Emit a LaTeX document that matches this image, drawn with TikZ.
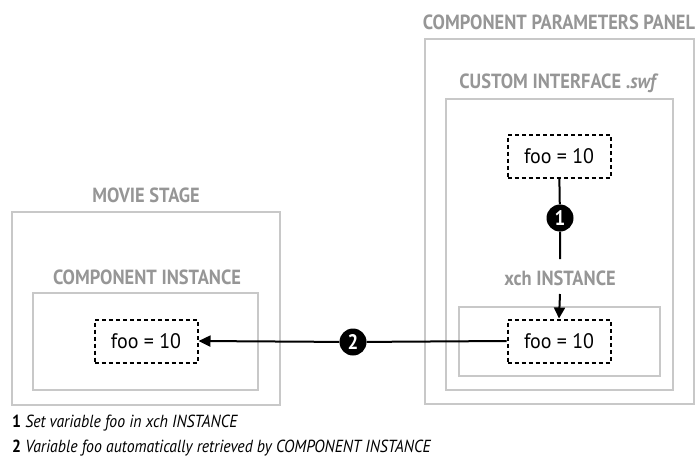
\documentclass[tikz,border=0pt]{standalone}
\usepackage{fontspec}
\setmainfont{PT Sans}
\newfontfamily\condfont[FakeStretch=0.9]{PT Sans}
\newfontfamily\varfont[FakeStretch=0.95]{PT Sans}
\usetikzlibrary{arrows.meta}
\definecolor{boxgray}{RGB}{200,200,200}
\definecolor{titlegray}{RGB}{150,150,150}
\tikzset{
  panel/.style={draw=boxgray, line width=1.5pt},
  paneltitle/.style={text=titlegray, inner sep=0pt, font=\condfont\bfseries\fontsize{20.5}{20.5}\selectfont},
  varbox/.style={draw, dash pattern=on 4pt off 3pt, line width=2pt, minimum width=103pt, minimum height=43pt, font=\varfont\fontsize{21}{21}\selectfont},
  marker/.style={circle, fill=black, text=white, inner sep=0pt, minimum size=27pt, font=\condfont\bfseries\fontsize{21}{21}\selectfont},
  link/.style={line width=2pt},
  note/.style={anchor=west, inner sep=0pt, font=\condfont\fontsize{17.5}{17.5}\selectfont},
}
\begin{document}
\begin{tikzpicture}[x=1pt,y=-1pt]
\useasboundingbox (0,0) rectangle (699,463);
% gray frames
\draw[panel] (425,39) rectangle (694,404);
\draw[panel] (446,99) rectangle (673,390);
\draw[panel] (459,307) rectangle (660,376);
\draw[panel] (12,212) rectangle (280,405);
\draw[panel] (33,293) rectangle (258,390);
% frame titles
\node[paneltitle] (paneltitle) at (559,22) {COMPONENT PARAMETERS PANEL};
\node[paneltitle] (customtitle) at (559,83) {CUSTOM INTERFACE .\textit{swf}};
\node[paneltitle] (xchtitle) at (560,278) {xch INSTANCE};
\node[paneltitle] (stagetitle) at (146,195) {MOVIE STAGE};
\node[paneltitle] (comptitle) at (147,277) {COMPONENT INSTANCE};
% variables
\node[varbox] (customfoo) at (559,156) {foo = 10};
\node[varbox] (xchfoo) at (559,341) {foo = 10};
\node[varbox] (stagefoo) at (146,341) {foo = 10};
% steps
\node[marker] (m1) at (560,218) {1};
\node[marker] (m2) at (353,342) {2};
\coordinate (m1end) at (560,259);
\coordinate (m1start) at (560,294);
\draw[link] (customfoo) -- (m1) -- (m1end);
\draw[link, -{Triangle[length=11pt, width=11pt]}] (m1start) -- (xchfoo.north);
\draw[link] (xchfoo.west) -- (m2);
\draw[link, -{Triangle[length=12pt, width=11pt]}] (m2) -- (stagefoo.east);
% legend
\node[note] (note1) at (12,423) {\textbf{1} \textit{Set variable foo in xch INSTANCE}};
\node[note] (note2) at (12,448) {\textbf{2} \textit{Variable foo automatically retrieved by COMPONENT INSTANCE}};
\end{tikzpicture}
\end{document}
